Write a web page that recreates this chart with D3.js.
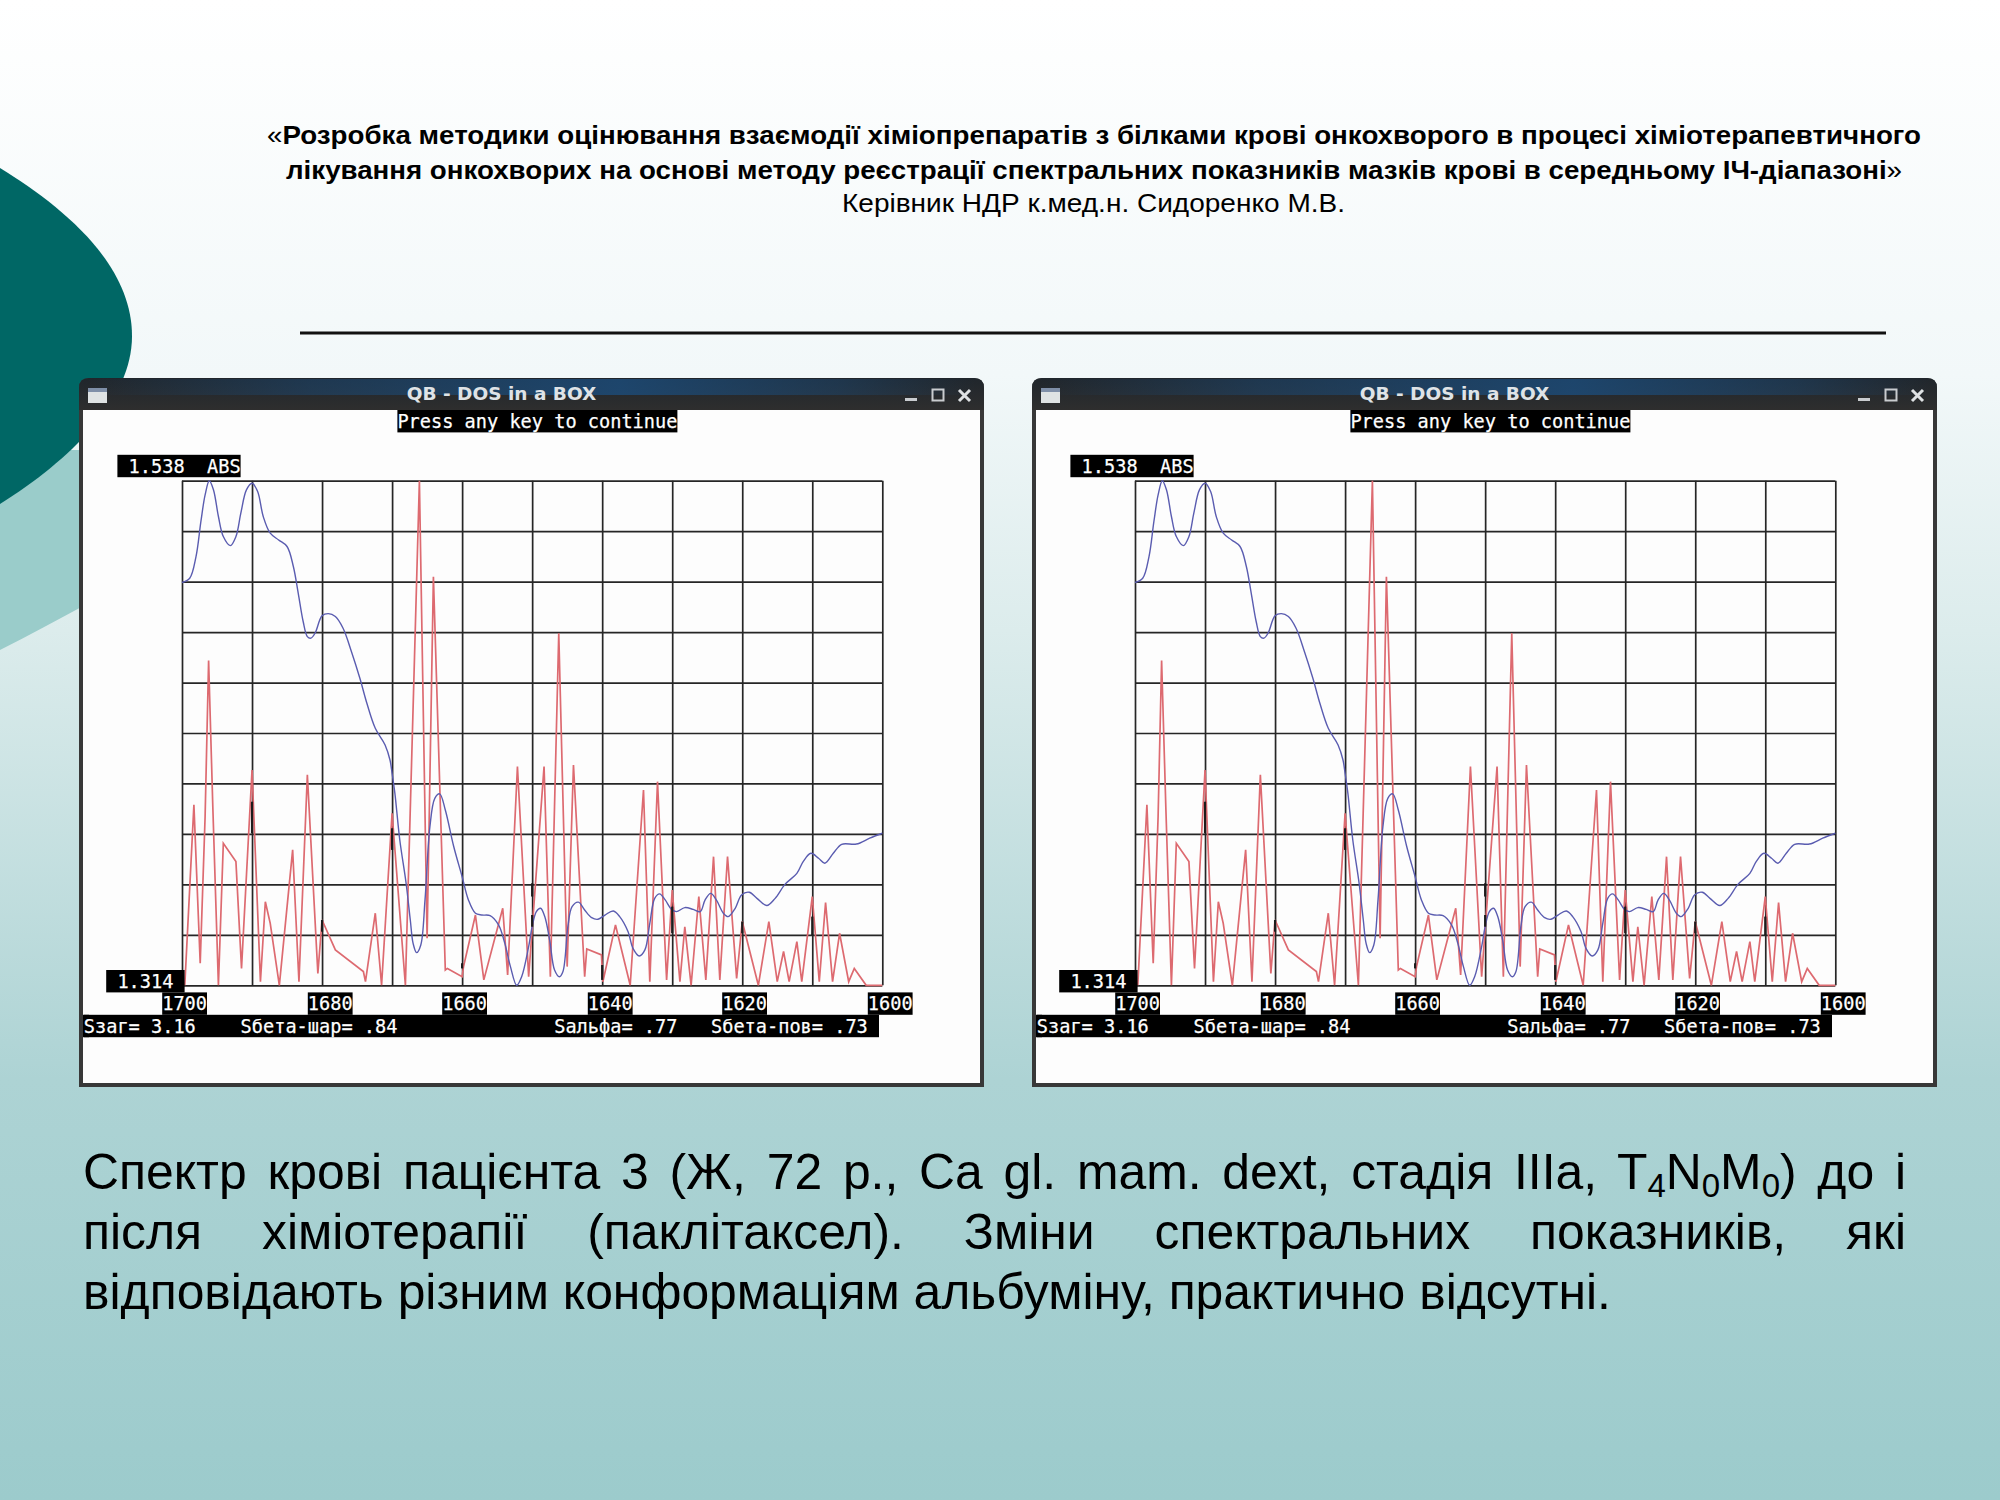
<!DOCTYPE html>
<html>
<head>
<meta charset="utf-8">
<script src="https://cdn.jsdelivr.net/npm/d3@7"></script>
<style>
    html, body { margin: 0; padding: 0; background: #fff; }
    svg { display: block; }
    .mono { font-family: "DejaVu Sans Mono", monospace; font-size: 19.5px; fill: #fff; stroke: #fff; stroke-width: 0.25px; white-space: pre; }
    .slide { font-family: "Liberation Sans", Arial, sans-serif; fill: #000; white-space: pre; }
</style>
</head>
<body>
<script>
// blue curve: absorbance spectrum
const blueWave = [1700, 1698.9, 1698, 1697.3, 1696.7, 1696.1, 1695.5, 1694.8, 1694.1, 1693.1, 1692.3, 1691.6, 1690.8, 1690,
    1689.2, 1688.4, 1687.4, 1686.2, 1685, 1684.1, 1683.4, 1682.7, 1682.1, 1681.6, 1681, 1680, 1679.1, 1678.1, 1677, 1675.8,
    1674.6, 1673.6, 1672.4, 1671, 1670.3, 1670, 1669.6, 1668.9, 1668, 1667.4, 1667, 1666.5, 1665.9, 1665.3, 1664.6, 1663.9,
    1663.2, 1662.4, 1661.2, 1660, 1659.1, 1658.1, 1657.2, 1656, 1654.8, 1653.9, 1653.1, 1652.2, 1651.5, 1650.5, 1650, 1649.4,
    1648.8, 1648.2, 1647.5, 1646.8, 1646.1, 1645.6, 1644.9, 1644.3, 1643.4, 1642.5, 1641.5, 1640.6, 1639.6, 1638.4, 1637.5,
    1636.3, 1635.6, 1634.7, 1633.9, 1633.2, 1632.5, 1631.8, 1631, 1630.1, 1629.4, 1628.2, 1627, 1626, 1625.3, 1624.5, 1623.7,
    1622.7, 1622, 1621, 1620.1, 1619, 1617.9, 1616.5, 1615.3, 1613.9, 1612.2, 1611.3, 1610.2, 1609.1, 1608.2, 1607, 1605.8,
    1603.7, 1601.8, 1600];
const blueAbs = [1.4928, 1.4947, 1.5043, 1.5199, 1.5317, 1.538, 1.5339, 1.5221, 1.5132, 1.5092, 1.5132, 1.5236, 1.5339, 1.5369,
    1.5332, 1.5221, 1.5147, 1.5117, 1.5088, 1.4999, 1.488, 1.4755, 1.4688, 1.4681, 1.4703, 1.478, 1.479, 1.4777, 1.4725, 1.4621,
    1.4503, 1.4392, 1.4281, 1.4207, 1.414, 1.4081, 1.3992, 1.3785, 1.3593, 1.343, 1.3326, 1.3285, 1.3319, 1.3519, 1.3844, 1.397,
    1.399, 1.3918, 1.3756, 1.3622, 1.3519, 1.346, 1.3452, 1.3449, 1.3408, 1.3326, 1.3223, 1.314, 1.3178, 1.3312, 1.34, 1.3467,
    1.3482, 1.3445, 1.3341, 1.3208, 1.3178, 1.3201, 1.34, 1.3489, 1.3509, 1.3474, 1.344, 1.3433, 1.3452, 1.347, 1.3445,
    1.3378, 1.3304, 1.327, 1.3297, 1.3415, 1.3526, 1.3546, 1.3519, 1.3477, 1.3467, 1.3485, 1.3477, 1.3467, 1.3519, 1.3548, 1.3519,
    1.346, 1.3445, 1.3482, 1.3541, 1.3553, 1.3526, 1.3494, 1.3526, 1.3588, 1.3637, 1.3689, 1.3726, 1.3704, 1.3682, 1.3726, 1.3766,
    1.3767, 1.3793, 1.3815];

// red curve: second derivative spectrum
const redWave = [1699.6, 1698.3, 1697.4, 1696.7, 1696.2, 1695.6, 1694.8, 1694.1, 1692.3, 1691.5, 1690, 1688.8, 1688.1, 1687.4,
    1686.1, 1684.2, 1683.3, 1682.1, 1680.6, 1680, 1678.1, 1674.1, 1673.8, 1672.4, 1671.5, 1670, 1668.1, 1666.1, 1665, 1664.1,
    1662.4, 1662.1, 1660, 1659.8, 1658.1, 1656.9, 1654.2, 1653.5, 1652.1, 1650.5, 1648.3, 1647.4, 1646.2, 1645, 1644.1, 1642.5,
    1642.2, 1640.1, 1639.9, 1638.1, 1636, 1634.1, 1633.2, 1632.1, 1630.8, 1630, 1628.9, 1628.2, 1627.3, 1626.2, 1625.2, 1624.1,
    1623.2, 1622.1, 1620.8, 1620, 1617.7, 1616.2, 1615, 1614.1, 1613.3, 1612.2, 1611.5, 1610, 1609, 1608.1, 1607.1, 1606.1,
    1604.8, 1604, 1602.3, 1600];
const redAbs = [1.314, 1.3941, 1.3238, 1.3889, 1.4582, 1.3933, 1.314, 1.377, 1.3689, 1.3215, 1.4096, 1.3156, 1.3511, 1.3415,
    1.314, 1.3741, 1.3156, 1.4074, 1.3193, 1.343, 1.3297, 1.3201, 1.3156, 1.346, 1.314, 1.3904, 1.314, 1.538, 1.3349, 1.4954,
    1.3208, 1.3215, 1.3178, 1.3223, 1.3452, 1.3164, 1.3482, 1.3186, 1.4111, 1.3178, 1.4111, 1.3178, 1.4703, 1.3223, 1.4118, 1.3178,
    1.3301, 1.3275, 1.3156, 1.3408, 1.314, 1.4007, 1.3156, 1.4044, 1.3164, 1.3563, 1.3156, 1.34, 1.314, 1.3534, 1.3164, 1.3711,
    1.3164, 1.3711, 1.3171, 1.3423, 1.314, 1.3423, 1.3156, 1.329, 1.3156, 1.3334, 1.3156, 1.3534, 1.3156, 1.3507, 1.3156, 1.3371,
    1.3156, 1.3215, 1.314, 1.314];

// dark stretches on the vertical grid lines where the curves overprint them
const overprintWave = [1690, 1680, 1670, 1660, 1650, 1650, 1640, 1630, 1620, 1610];
const overprintLow = [1.3815, 1.3378, 1.3741, 1.3215, 1.3534, 1.34, 1.3164, 1.3371, 1.3371, 1.3363];
const overprintHigh = [1.3955, 1.343, 1.3837, 1.3238, 1.3593, 1.3452, 1.323, 1.3489, 1.3423, 1.3445];

const gridWave = [1700, 1690, 1680, 1670, 1660, 1650, 1640, 1630, 1620, 1610, 1600];
const gridAbs = [1.314, 1.3364, 1.3588, 1.3812, 1.4036, 1.426, 1.4484, 1.4708, 1.4932, 1.5156, 1.538];
const tickWave = [1700, 1680, 1660, 1640, 1620, 1600];

const windowTitle = "QB - DOS in a BOX";
const promptText = "Press any key to continue";
const topLabel = " 1.538  ABS";
const bottomLabel = " 1.314 ";
const statsText = "Sзаг= 3.16    Sбета-шар= .84              Sальфа= .77   Sбета-пов= .73 ";

const titleLines = [
    ["«", "Розробка методики оцінювання взаємодії хіміопрепаратів з білками крові онкохворого в процесі хіміотерапевтичного", ""],
    ["", "лікування онкохворих на основі методу реєстрації спектральних показників мазків крові в середньому ІЧ-діапазоні", "»"]
];
const leaderLine = "Керівник НДР  к.мед.н. Сидоренко М.В.";
const captionLine2 = "після хіміотерапії (паклітаксел). Зміни спектральних показників, які";
const captionLine3 = "відповідають різним конформаціям альбуміну, практично відсутні.";

const W = 2000, H = 1500;
const svg = d3.select("body").append("svg").attr("width", W).attr("height", H);
const defs = svg.append("defs");

// slide background
const bg = defs.append("linearGradient").attr("id", "bg").attr("x1", 0).attr("y1", 0).attr("x2", 0).attr("y2", 1);
[[0, "#ffffff"], [0.25, "#f2f8f9"], [0.42, "#dcecec"], [0.72, "#add3d4"], [1, "#9ccbcc"]].forEach(s =>
    bg.append("stop").attr("offset", s[0]).attr("stop-color", s[1]));
svg.append("rect").attr("width", W).attr("height", H).attr("fill", "url(#bg)");

// decoration on the left edge
svg.append("path").attr("fill", "#9accca")
    .attr("d", "M0,450 L160,450 L160,565 C110,590 60,620 0,650 Z");
svg.append("path").attr("fill", "#006765")
    .attr("d", "M0,168 C60,205 132,262 132,336 C132,400 70,460 0,504 Z");

// title bar gradients
const barV = defs.append("linearGradient").attr("id", "barV").attr("x1", 0).attr("y1", 0).attr("x2", 0).attr("y2", 1);
[[0, "#20262c"], [1, "#2e2e2e"]].forEach(s => barV.append("stop").attr("offset", s[0]).attr("stop-color", s[1]));
const barH = defs.append("linearGradient").attr("id", "barH").attr("x1", 0).attr("y1", 0).attr("x2", 1).attr("y2", 0);
[[0, 0], [0.25, 0.45], [0.6, 0.8], [0.85, 0.4], [1, 0]].forEach(s =>
    barH.append("stop").attr("offset", s[0]).attr("stop-color", "#1c4d7c").attr("stop-opacity", s[1]));

// the slide title
const title = svg.append("g").attr("class", "slide");
const titleX = [267, 286], titleLen = [1654, 1616], titleY = [144, 179];
titleLines.forEach((parts, i) => {
    const t = title.append("text").attr("x", titleX[i]).attr("y", titleY[i]).attr("font-size", 25.5)
        .attr("textLength", titleLen[i]).attr("lengthAdjust", "spacingAndGlyphs");
    t.append("tspan").text(parts[0]);
    t.append("tspan").attr("font-weight", "bold").text(parts[1]);
    t.append("tspan").text(parts[2]);
});
title.append("text").attr("x", 842).attr("y", 212).attr("font-size", 25.5)
    .attr("textLength", 503).attr("lengthAdjust", "spacingAndGlyphs").text(leaderLine);
svg.append("rect").attr("x", 300).attr("y", 331.5).attr("width", 1586).attr("height", 3).attr("fill", "#111");

/**
 * One "DOS in a BOX" window with the two spectra
 * @param {number} dx horizontal offset of the window
 */
function drawWindow(dx) {
    const g = svg.append("g").attr("transform", `translate(${dx},0)`);
    const left = 79, right = 984, top = 378, bottom = 1087, barBottom = 410;

    // frame
    g.append("path").attr("fill", "#383838")
        .attr("d", `M${left},${top + 10} Q${left},${top} ${left + 10},${top} L${right - 10},${top} Q${right},${top} ${right},${top + 10} L${right},${bottom} L${left},${bottom} Z`);
    g.append("rect").attr("x", left + 4).attr("y", barBottom).attr("width", right - left - 8)
        .attr("height", bottom - barBottom - 4).attr("fill", "#fdfdfd");
    g.append("path").attr("fill", "url(#barV)")
        .attr("d", `M${left},${barBottom} L${left},${top + 10} Q${left},${top} ${left + 10},${top} L${right - 10},${top} Q${right},${top} ${right},${top + 10} L${right},${barBottom} Z`);
    g.append("rect").attr("x", left + 8).attr("y", top + 1).attr("width", right - left - 16).attr("height", 16).attr("fill", "url(#barH)");
    g.append("rect").attr("x", 88).attr("y", 388).attr("width", 19).attr("height", 15).attr("fill", "#dfe3e4");
    g.append("rect").attr("x", 88).attr("y", 388).attr("width", 19).attr("height", 4).attr("fill", "#7f8fa8");

    g.append("text").attr("x", 501.5).attr("y", 400).attr("text-anchor", "middle")
        .attr("font-family", "DejaVu Sans").attr("font-weight", "bold").attr("font-size", 18.5)
        .attr("fill", "#dfe3e6").text(windowTitle);

    // window buttons
    g.append("rect").attr("x", 905).attr("y", 398).attr("width", 12).attr("height", 3).attr("fill", "#c9cccf");
    g.append("rect").attr("x", 932.5).attr("y", 389.5).attr("width", 11).attr("height", 11)
        .attr("fill", "none").attr("stroke", "#c9cccf").attr("stroke-width", 2);
    g.append("path").attr("d", "M959,390 L970,401 M970,390 L959,401").attr("stroke", "#dfe2e4").attr("stroke-width", 3);

    // plot
    const x = d3.scaleLinear().domain([1700, 1600]).range([182, 882.3]);
    const y = d3.scaleLinear().domain([1.314, 1.538]).range([985.3, 480.7]);

    const gridX = g.append("g").attr("transform", `translate(0,${y.range()[1]})`)
        .call(d3.axisBottom(x).tickValues(gridWave).tickSize(y.range()[0] - y.range()[1]).tickFormat(""));
    const gridY = g.append("g").attr("transform", `translate(${x.range()[0]},0)`)
        .call(d3.axisRight(y).tickValues(gridAbs).tickSize(x.range()[1] - x.range()[0]).tickFormat(""));
    [gridX, gridY].forEach(a => {
        a.select(".domain").remove();
        a.selectAll("line").attr("stroke", "#262626").attr("stroke-width", 1.7);
    });

    const redLine = d3.line().x(d => x(d[0])).y(d => y(d[1]));
    const blueLine = d3.line().x(d => x(d[0])).y(d => y(d[1])).curve(d3.curveCatmullRom.alpha(0.5));
    g.append("path").datum(d3.zip(redWave, redAbs)).attr("d", redLine)
        .attr("fill", "none").attr("stroke", "#dd6a70").attr("stroke-width", 1.7);
    g.append("path").datum(d3.zip(blueWave, blueAbs)).attr("d", blueLine)
        .attr("fill", "none").attr("stroke", "#5a5cb0").attr("stroke-width", 1.4);

    g.selectAll(".overprint").data(d3.zip(overprintWave, overprintLow, overprintHigh)).join("line")
        .attr("class", "overprint")
        .attr("x1", d => x(d[0])).attr("x2", d => x(d[0]))
        .attr("y1", d => y(d[1])).attr("y2", d => y(d[2]))
        .attr("stroke", "#1c1c1c").attr("stroke-width", 2.2);

    // text screen of the DOS program, 11.2 x 22.4 pixel cells
    const cellW = 11.2, cellH = 22.4, col0 = 83.8, row0 = 410;
    const cellText = (col, row, str) => {
        g.append("rect").attr("x", col0 + col * cellW).attr("y", row0 + row * cellH)
            .attr("width", str.length * cellW).attr("height", cellH).attr("fill", "#000");
        g.append("text").attr("class", "mono").attr("x", col0 + col * cellW).attr("y", row0 + row * cellH + 18)
            .attr("textLength", str.length * cellW).attr("lengthAdjust", "spacingAndGlyphs").text(str);
    };
    cellText(28, 0, promptText);
    cellText(3, 2, topLabel);
    cellText(2, 25, bottomLabel);
    tickWave.forEach(t => cellText(Math.floor((x(t) - col0) / cellW) - 1, 26, String(t)));
    g.append("rect").attr("x", left + 4).attr("y", row0 + 27 * cellH).attr("width", 6).attr("height", cellH).attr("fill", "#000");
    cellText(0, 27, statsText);
}

drawWindow(0);
drawWindow(953);

// caption under the windows, justified by word spacing
const caption = svg.append("g").attr("class", "slide").attr("font-size", 49.85);
const capLeft = 83, capRight = 1906;
const justify = sel => {
    const str = sel.text();
    const gaps = str.split(" ").length - 1;
    const len = sel.node().getComputedTextLength();
    sel.attr("word-spacing", (capRight - capLeft - len) / gaps);
};

const line1 = caption.append("text").attr("x", capLeft).attr("y", 1189);
line1.append("tspan").text("Спектр крові пацієнта 3 (Ж, 72 р., Ca gl. mam. dext, стадія IIIa, T");
line1.append("tspan").attr("font-size", 33).attr("dy", 8).text("4");
line1.append("tspan").attr("dy", -8).text("N");
line1.append("tspan").attr("font-size", 33).attr("dy", 8).text("0");
line1.append("tspan").attr("dy", -8).text("M");
line1.append("tspan").attr("font-size", 33).attr("dy", 8).text("0");
line1.append("tspan").attr("dy", -8).text(") до і");
justify(line1);

const line2 = caption.append("text").attr("x", capLeft).attr("y", 1249).text(captionLine2);
justify(line2);
caption.append("text").attr("x", capLeft).attr("y", 1309).text(captionLine3);
</script>
</body>
</html>
